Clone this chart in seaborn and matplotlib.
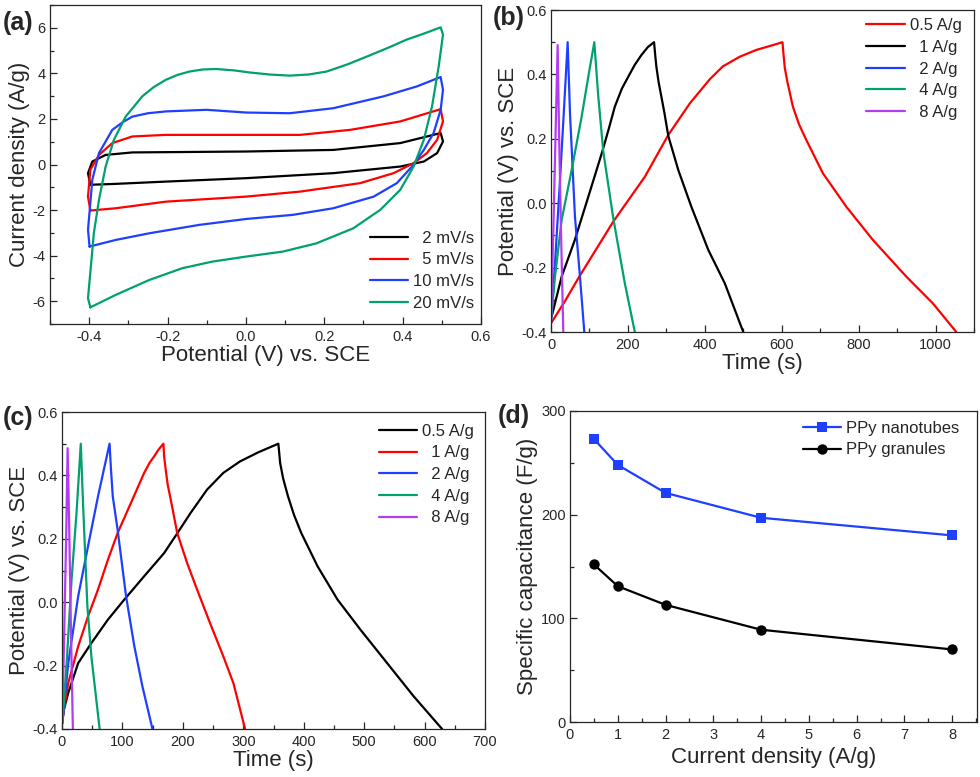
import numpy as np
import pandas as pd
import matplotlib
matplotlib.use("Agg")
import matplotlib.pyplot as plt
from matplotlib.ticker import MultipleLocator, FormatStrFormatter
import seaborn as sns

sns.set_style("ticks")
plt.rcParams['font.family'] = ['Liberation Sans', 'DejaVu Sans']
plt.rcParams['axes.unicode_minus'] = False
plt.rcParams['axes.linewidth'] = 0.9

RED = '#ff0000'
BLACK = '#000000'
BLUE = '#1f3fff'
GREEN = '#00a070'
PURPLE = '#b23cf0'

# (a) cyclic voltammograms
cv_labels = ['  2 mV/s', '  5 mV/s', '10 mV/s', '20 mV/s']
cv2_x = [-0.397, -0.403, -0.392, -0.358, -0.29, 0.0, 0.223, 0.394, 0.497, 0.503, 0.488, 0.454, 0.394, 0.223, 0.0, -0.204, -0.332, -0.397]
cv2_y = [-0.89, -0.38, 0.13, 0.42, 0.53, 0.57, 0.64, 0.94, 1.38, 1.01, 0.5, 0.13, -0.09, -0.38, -0.6, -0.75, -0.85, -0.89]
cv5_x = [-0.397, -0.403, -0.397, -0.375, -0.341, -0.29, -0.204, 0.0, 0.138, 0.266, 0.394, 0.497, 0.503, 0.488, 0.462, 0.428, 0.377, 0.291, 0.138, 0.0, -0.204, -0.332, -0.397]
cv5_y = [-2.02, -1.41, -0.23, 0.42, 0.94, 1.23, 1.3, 1.3, 1.3, 1.52, 1.89, 2.43, 1.89, 1.08, 0.5, 0.06, -0.38, -0.82, -1.19, -1.41, -1.63, -1.92, -2.02]
cv10_x = [-0.399, -0.403, -0.392, -0.375, -0.341, -0.315, -0.29, -0.25, -0.204, -0.1, 0.001, 0.112, 0.223, 0.351, 0.437, 0.497, 0.503, 0.497, 0.479, 0.454, 0.424, 0.385, 0.326, 0.223, 0.12, 0.001, -0.119, -0.247, -0.332, -0.399]
cv10_y = [-3.6, -2.87, -0.67, 0.5, 1.52, 1.85, 2.1, 2.25, 2.33, 2.4, 2.28, 2.25, 2.47, 2.99, 3.43, 3.84, 3.28, 2.4, 1.38, 0.64, -0.09, -0.82, -1.41, -1.92, -2.21, -2.39, -2.65, -3.02, -3.31, -3.6]
cv20_x = [-0.397, -0.403, -0.388, -0.375, -0.358, -0.337, -0.307, -0.264, -0.235, -0.204, -0.175, -0.144, -0.11, -0.076, -0.03, 0.009, 0.06, 0.112, 0.16, 0.206, 0.26, 0.309, 0.36, 0.41, 0.455, 0.497, 0.503, 0.492, 0.475, 0.454, 0.428, 0.394, 0.343, 0.274, 0.18, 0.095, 0.001, -0.085, -0.162, -0.247, -0.332, -0.397]
cv20_y = [-6.27, -5.87, -3.0, -1.55, -0.09, 1.08, 2.1, 3.0, 3.4, 3.72, 3.93, 4.08, 4.17, 4.19, 4.13, 4.04, 3.95, 3.9, 3.95, 4.08, 4.4, 4.74, 5.1, 5.48, 5.75, 6.02, 5.7, 4.3, 2.55, 1.08, -0.09, -1.11, -1.99, -2.8, -3.46, -3.82, -4.04, -4.26, -4.55, -5.07, -5.72, -6.27]

# (b) charge/discharge, nanotubes
gcd_labels = ['0.5 A/g', '  1 A/g', '  2 A/g', '  4 A/g', '  8 A/g']
b05_t = [0, 36.4, 71, 162, 244, 305, 361, 413, 447, 491, 534, 577, 602, 604, 608, 615, 629, 645, 664, 707, 768, 837, 924, 993, 1054]
b05_v = [-0.373, -0.304, -0.233, -0.057, 0.082, 0.212, 0.31, 0.385, 0.425, 0.455, 0.476, 0.491, 0.5, 0.47, 0.42, 0.375, 0.3, 0.245, 0.196, 0.093, -0.011, -0.114, -0.228, -0.311, -0.4]
b1_t = [1.7, 27.7, 62, 97, 132, 150, 166, 184, 201, 218, 235, 252, 268, 271, 274, 280, 287, 295, 305, 331, 365, 409, 452, 500]
b1_v = [-0.352, -0.228, -0.114, 0.02, 0.155, 0.23, 0.3, 0.355, 0.393, 0.43, 0.46, 0.485, 0.5, 0.46, 0.424, 0.375, 0.331, 0.28, 0.209, 0.103, -0.011, -0.145, -0.249, -0.4]
b2_t = [0, 10.4, 23.4, 34.6, 43.3, 49.4, 62.3, 75.3, 86.6]
b2_v = [-0.373, -0.187, 0.072, 0.31, 0.5, 0.279, -0.042, -0.228, -0.4]
b4_t = [0, 10.4, 27.7, 53.7, 79.7, 97, 112.6, 123, 136, 162, 192, 218]
b4_v = [-0.363, -0.228, -0.052, 0.103, 0.269, 0.393, 0.5, 0.331, 0.16, -0.047, -0.249, -0.4]
b8_t = [0, 6.1, 12.1, 17.3, 20.8, 26, 32]
b8_v = [-0.363, -0.083, 0.227, 0.491, 0.227, -0.083, -0.4]

# (c) charge/discharge, granules
c05_t = [0.5, 3, 10.4, 26.8, 48.6, 76, 103, 136, 169, 191, 212.6, 240, 267, 294.5, 325, 358, 359.5, 361, 366, 374, 384, 396, 423, 456, 494, 538, 582, 629]
c05_v = [-0.381, -0.34, -0.286, -0.192, -0.129, -0.055, 0.008, 0.082, 0.155, 0.218, 0.281, 0.355, 0.408, 0.444, 0.473, 0.5, 0.47, 0.439, 0.39, 0.334, 0.275, 0.218, 0.113, 0.008, -0.087, -0.192, -0.297, -0.4]
c1_t = [0.5, 10.4, 26.8, 43, 59.6, 76, 92, 114, 136, 145, 152.5, 160, 167.8, 169, 171.6, 175, 180, 190.7, 207, 223.5, 245, 267, 283.6, 303]
c1_v = [-0.37, -0.255, -0.139, -0.045, 0.04, 0.134, 0.218, 0.313, 0.408, 0.44, 0.46, 0.482, 0.5, 0.46, 0.418, 0.37, 0.323, 0.218, 0.124, 0.04, -0.066, -0.171, -0.255, -0.4]
c2_t = [0.5, 10.4, 26.8, 43, 59.6, 70.5, 78.7, 81, 84, 92, 106, 119.7, 133, 149.7]
c2_v = [-0.381, -0.192, 0.019, 0.176, 0.334, 0.429, 0.5, 0.42, 0.334, 0.229, 0.019, -0.139, -0.265, -0.4]
c4_t = [0.5, 7.7, 15.8, 24, 31.1, 35, 42, 48.6, 62.3]
c4_v = [-0.381, -0.192, 0.071, 0.281, 0.5, 0.302, -0.013, -0.171, -0.4]
c8_t = [0.5, 3.8, 7.1, 9.3, 12, 14.8, 18.0]
c8_v = [-0.381, -0.087, 0.229, 0.486, 0.229, -0.087, -0.4]

# (d) specific capacitance
current = [0.5, 1, 2, 4, 8]
cap_nanotubes = [273, 248, 221, 197, 180]
cap_granules = [152, 131, 113, 89, 70]

W, H = 980, 777
fig = plt.figure(figsize=(W / 100, H / 100), dpi=100)


def box(l, r, t, b):
    return [l / W, 1 - b / H, (r - l) / W, (b - t) / H]


ax_a = fig.add_axes(box(50, 481, 5, 324))
ax_b = fig.add_axes(box(551, 974, 10, 332))
ax_c = fig.add_axes(box(62, 485, 412, 729))
ax_d = fig.add_axes(box(570, 977, 411, 722))


def draw(ax, xs, ys, color, label):
    sns.lineplot(x=xs, y=ys, sort=False, estimator=None, color=color,
                 lw=1.6, label=label, ax=ax)


for xs, ys, c, lab in zip([cv2_x, cv5_x, cv10_x, cv20_x], [cv2_y, cv5_y, cv10_y, cv20_y],
                          [BLACK, RED, BLUE, GREEN], cv_labels):
    draw(ax_a, xs, ys, c, lab)

for xs, ys, c, lab in zip([b05_t, b1_t, b2_t, b4_t, b8_t], [b05_v, b1_v, b2_v, b4_v, b8_v],
                          [RED, BLACK, BLUE, GREEN, PURPLE], gcd_labels):
    draw(ax_b, xs, ys, c, lab)

for xs, ys, c, lab in zip([c05_t, c1_t, c2_t, c4_t, c8_t], [c05_v, c1_v, c2_v, c4_v, c8_v],
                          [BLACK, RED, BLUE, GREEN, PURPLE], gcd_labels):
    draw(ax_c, xs, ys, c, lab)

sns.lineplot(x=current, y=cap_nanotubes, color=BLUE, lw=1.6, marker='s', markersize=7,
             markeredgewidth=0, label='PPy nanotubes', ax=ax_d)
sns.lineplot(x=current, y=cap_granules, color=BLACK, lw=1.6, marker='o', markersize=7.5,
             markeredgewidth=0, label='PPy granules', ax=ax_d)

# axes styling
ax_a.set_xlim(-0.5, 0.6); ax_a.set_ylim(-7, 7)
ax_a.xaxis.set_minor_locator(MultipleLocator(0.1))
ax_a.yaxis.set_minor_locator(MultipleLocator(1))
ax_a.set_xticks([-0.4, -0.2, 0.0, 0.2, 0.4, 0.6])
ax_a.set_xticklabels(['-0.4', '-0.2', '0.0', '0.2', '0.4', '0.6'])
ax_a.set_yticks([-6, -4, -2, 0, 2, 4, 6])
ax_a.set_xlabel('Potential (V) vs. SCE')
ax_a.set_ylabel('Current density (A/g)')

for ax, xmax, xmaj, xmin in [(ax_b, 1100, 200, 100), (ax_c, 700, 100, 50)]:
    ax.set_xlim(0, xmax); ax.set_ylim(-0.4, 0.6)
    ax.xaxis.set_major_locator(MultipleLocator(xmaj)); ax.xaxis.set_minor_locator(MultipleLocator(xmin))
    ax.yaxis.set_major_locator(MultipleLocator(0.2)); ax.yaxis.set_minor_locator(MultipleLocator(0.1))
    ax.yaxis.set_major_formatter(FormatStrFormatter('%.1f'))
    ax.set_xlabel('Time (s)')
    ax.set_ylabel('Potential (V) vs. SCE')

ax_d.set_xlim(0, 8.52); ax_d.set_ylim(0, 300)
ax_d.xaxis.set_major_locator(MultipleLocator(1)); ax_d.xaxis.set_minor_locator(MultipleLocator(0.5))
ax_d.yaxis.set_major_locator(MultipleLocator(100)); ax_d.yaxis.set_minor_locator(MultipleLocator(50))
ax_d.set_xlabel('Current density (A/g)')
ax_d.set_ylabel('Specific capacitance (F/g)')

for ax in [ax_a, ax_b, ax_c, ax_d]:
    for s in ax.spines.values():
        s.set_visible(True)
        s.set_linewidth(0.9)
    ax.tick_params(which='major', direction='in', length=5, width=0.9, labelsize=10.5)
    ax.tick_params(which='minor', direction='in', length=3, width=0.9)
    ax.tick_params(axis='x', which='major', pad=4)
    ax.tick_params(axis='y', which='major', pad=3)
    ax.xaxis.label.set_size(16)
    ax.yaxis.label.set_size(16)
    ax.xaxis.labelpad = 1
    ax.yaxis.labelpad = 2
ax_d.xaxis.labelpad = 4

leg_kw = dict(frameon=False, fontsize=12, handlelength=2.3, handletextpad=0.3,
              labelspacing=0.4, borderaxespad=0, loc='upper left')
ax_a.legend(bbox_to_anchor=(0.726, 0.313), **leg_kw)
ax_b.legend(bbox_to_anchor=(0.73, 0.995), **leg_kw)
ax_c.legend(bbox_to_anchor=(0.733, 0.984), **leg_kw)
ax_d.legend(bbox_to_anchor=(0.555, 0.99), **leg_kw)

for x, y, s in [(3, 30, '(a)'), (493, 25, '(b)'), (3, 425, '(c)'), (498, 423, '(d)')]:
    fig.text(x / W, 1 - y / H, s, fontsize=18, fontweight='bold', va='baseline', ha='left')

fig.savefig('out.png', dpi=100)
